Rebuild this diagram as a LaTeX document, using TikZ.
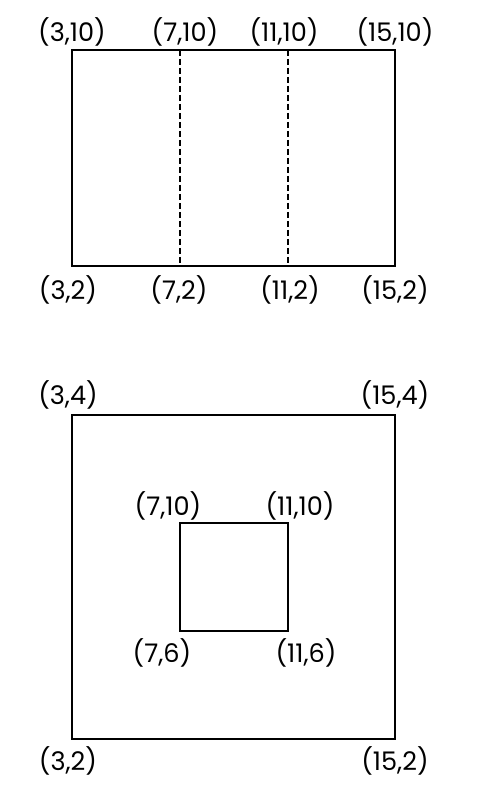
\documentclass[tikz,border=0pt]{standalone}
\usepackage{fontspec}
\setmainfont{Poppins}
\tikzset{
    pt label/.style={inner sep=0pt, font=\fontsize{12.8}{15}\selectfont},
    outline/.style={line width=0.65pt},
    fold/.style={line width=0.65pt, dash pattern=on 3pt off 1.5pt}
}

\begin{document}
\begin{tikzpicture}[x=0.5pt, y=-0.5pt]
        \useasboundingbox                                          (0, 0) rectangle (488, 806);
        % upper sheet
            \draw[outline]                                             ( 72, 50) rectangle (395,266);
            \draw[fold]                                                (180, 50) -- (180,266);
            \draw[fold]                                                (288, 50) -- (288,266);
            \node[pt label] (ul)  at ( 72, 32) {(3,10)};
            \node[pt label] (uml) at (185, 32) {(7,10)};
            \node[pt label] (umr) at (284, 32) {(11,10)};
            \node[pt label] (ur)  at (395, 32) {(15,10)};
            \node[pt label] (ll)  at ( 68,290) {(3,2)};
            \node[pt label] (lml) at (179,290) {(7,2)};
            \node[pt label] (lmr) at (290,290) {(11,2)};
            \node[pt label] (lr)  at (395,290) {(15,2)};
        % lower sheet with hole
            \draw[outline]                                             ( 72,415) rectangle (395,739);
            \draw[outline]                                             (180,523) rectangle (288,631);
            \node[pt label] (ol)  at ( 68,395) {(3,4)};
            \node[pt label] (or)  at (395,395) {(15,4)};
            \node[pt label] (il)  at (168,506) {(7,10)};
            \node[pt label] (ir)  at (300,506) {(11,10)};
            \node[pt label] (bl)  at (162,653) {(7,6)};
            \node[pt label] (br)  at (306,653) {(11,6)};
            \node[pt label] (sl)  at ( 68,761) {(3,2)};
            \node[pt label] (sr)  at (395,761) {(15,2)};
        \end{tikzpicture}
\end{document}
